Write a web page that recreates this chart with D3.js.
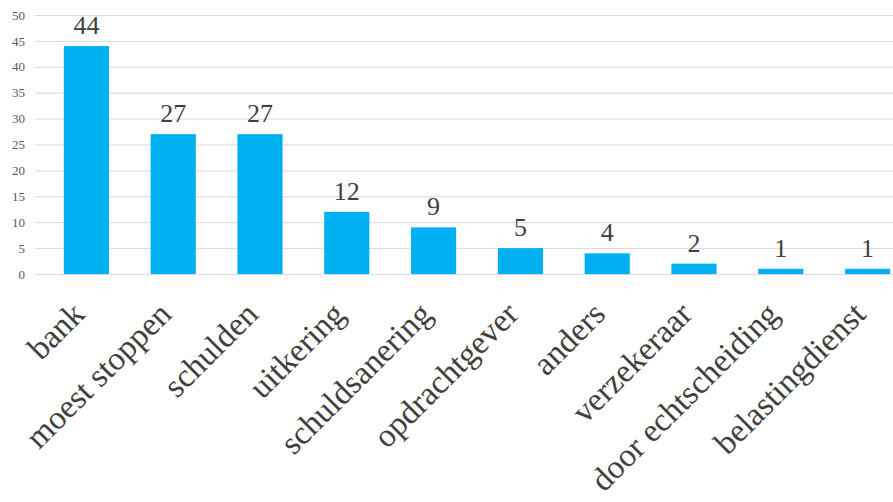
<!DOCTYPE html>
<html>
<head>
<meta charset="utf-8">
<script src="https://cdn.jsdelivr.net/npm/d3@7"></script>
<style>
  html, body { margin: 0; padding: 0; background: #fff; }
  svg { display: block; }
  svg text { font-family: "Times New Roman", "Liberation Serif", "DejaVu Serif", serif; }
</style>
</head>
<body>
<svg id="chart" width="893" height="502"></svg>
<script>
// Reasons / sources, with counts
const categories = ["bank", "moest stoppen", "schulden", "uitkering", "schuldsanering",
  "opdrachtgever", "anders", "verzekeraar", "door echtscheiding", "belastingdienst"];
const values = [44, 27, 27, 12, 9, 5, 4, 2, 1, 1];
const yTicks = [0, 5, 10, 15, 20, 25, 30, 35, 40, 45, 50];

const svg = d3.select("#chart");
const W = 893, H = 502;

const x = d3.scaleBand()
  .domain(categories)
  .range([43, 911])
  .paddingInner(0.48)
  .paddingOuter(0.24);

const y = d3.scaleLinear()
  .domain([0, 50])
  .range([274, 15]);

// Horizontal gridlines
svg.append("g")
  .selectAll("line")
  .data(yTicks)
  .join("line")
  .attr("x1", 35)
  .attr("x2", W)
  .attr("y1", d => y(d) + 0.5)
  .attr("y2", d => y(d) + 0.5)
  .attr("stroke", "#d9d9d9")
  .attr("stroke-width", 1);

// Y axis labels
const yAxis = d3.axisLeft(y).tickValues(yTicks).tickSize(0).tickPadding(0);
const gy = svg.append("g")
  .attr("transform", "translate(25,0)")
  .call(yAxis);
gy.select(".domain").remove();
gy.selectAll("text")
  .attr("font-size", 13)
  .attr("fill", "#595959");

// Bars
svg.append("g")
  .selectAll("rect")
  .data(values)
  .join("rect")
  .attr("x", (d, i) => x(categories[i]))
  .attr("width", x.bandwidth())
  .attr("y", d => y(d))
  .attr("height", d => y(0) - y(d))
  .attr("fill", "#00b0f0");

// Value labels
svg.append("g")
  .selectAll("text")
  .data(values)
  .join("text")
  .attr("x", (d, i) => x(categories[i]) + x.bandwidth() / 2)
  .attr("y", d => y(d) - 12)
  .attr("text-anchor", "middle")
  .attr("font-size", 26)
  .attr("fill", "#404040")
  .text(d => d);

// Category labels, rotated
svg.append("g")
  .selectAll("text")
  .data(categories)
  .join("text")
  .attr("transform", d => {
    const cx = x(d) + x.bandwidth() / 2;
    return `translate(${cx},${316}) rotate(-45)`;
  })
  .attr("text-anchor", "end")
  .attr("font-size", 33)
  .attr("fill", "#404040")
  .text(d => d);
</script>
</body>
</html>
